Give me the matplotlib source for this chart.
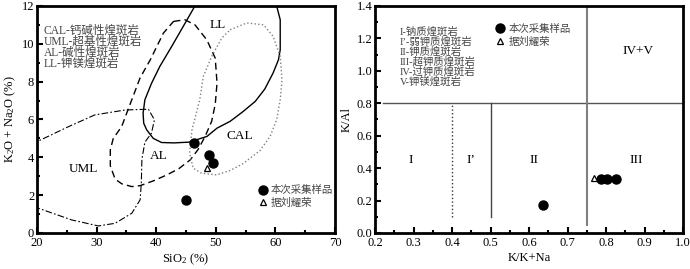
import matplotlib
matplotlib.use('Agg')
import matplotlib.pyplot as plt
from matplotlib.lines import Line2D
from matplotlib.ticker import MultipleLocator

plt.rcParams['font.family'] = ['Liberation Serif', 'Noto Sans CJK SC']
plt.rcParams['mathtext.fontset'] = 'custom'
plt.rcParams['mathtext.rm'] = 'Liberation Serif'
plt.rcParams['mathtext.default'] = 'regular'

# ---- left diagram: SiO2 vs K2O+Na2O fields ----
ll_x = [46.9, 46.5, 44.5, 42.6, 40.6, 39.2, 38.1, 37.8, 37.9, 38.4, 39.5, 40.9, 43.0, 45.5, 48.5, 50.2, 52.4, 54.5, 56.6, 58.2, 59.6, 60.5, 60.8, 60.8, 60.2, 59.9]
ll_y = [12.6, 12.0, 10.9, 9.86, 8.8, 7.9, 7.04, 6.33, 5.8, 5.45, 5.0, 4.78, 4.76, 4.8, 5.1, 5.54, 5.9, 6.4, 6.95, 7.6, 8.45, 9.15, 9.68, 11.27, 12.0, 12.6]

al_x = [42.9, 44.8, 46.5, 48.5, 49.9, 50.2, 49.9, 49.3, 48.2, 47.0, 45.7, 43.8, 41.8, 39.5, 37.3, 35.9, 34.2, 33.1, 32.3, 32.3, 32.8, 34.2, 35.9, 37.3, 39.0, 41.2, 42.9]
al_y = [11.18, 11.27, 11.0, 10.2, 9.24, 7.92, 6.8, 5.9, 5.1, 4.4, 3.86, 3.4, 3.07, 2.75, 2.5, 2.45, 2.6, 2.85, 3.55, 4.4, 5.0, 5.62, 7.04, 8.2, 9.15, 10.56, 11.18]

cal_x = [52.4, 55.2, 58.0, 59.6, 60.8, 61.1, 60.8, 60.2, 59.1, 57.4, 54.5, 52.4, 50.1, 47.6, 46.2, 45.6, 46.0, 47.3, 47.9, 49.3, 51.0, 52.4]
cal_y = [10.74, 11.1, 11.0, 10.4, 9.33, 8.1, 7.04, 5.98, 5.1, 4.35, 3.65, 3.3, 3.07, 3.16, 3.42, 4.22, 5.45, 7.04, 8.27, 9.33, 10.3, 10.74]

uml_x = [17.0, 20.3, 25.3, 29.7, 34.8, 38.7, 39.7, 39.2, 38.1, 37.6, 37.5, 37.3, 35.9, 33.1, 30.3, 25.8, 20.2, 17.0]
uml_y = [4.5, 4.87, 5.62, 6.24, 6.5, 6.54, 5.98, 5.27, 4.8, 3.9, 2.63, 1.75, 1.04, 0.51, 0.37, 0.69, 1.31, 1.6]

samp_sio2 = [46.3, 48.9, 49.6, 45.0]
samp_alk = [4.78, 4.13, 3.69, 1.72]
liu_sio2 = [48.5]
liu_alk = [3.42]

left_notes = ['CAL-钙碱性煌斑岩', 'UML-超基性煌斑岩', 'AL-碱性煌斑岩', 'LL-钾镁煌斑岩']
left_fields = ['LL', 'CAL', 'AL', 'UML']
left_field_x = [50.3, 54.1, 40.4, 27.8]
left_field_y = [11.0, 5.1, 4.05, 3.4]

# ---- right diagram: K/(K+Na) vs K/Al ----
samp_kkna = [0.637, 0.787, 0.803, 0.826]
samp_kal = [0.17, 0.335, 0.335, 0.335]
liu_kkna = [0.769]
liu_kal = [0.338]

right_notes = ['I-钠质煌斑岩', 'I’-弱钾质煌斑岩', 'II-钾质煌斑岩', 'III-超钾质煌斑岩', 'IV-过钾质煌斑岩', 'V-钾镁煌斑岩']
right_fields = ['I', 'I’', 'II', 'III', 'IV+V']
right_field_x = [0.293, 0.449, 0.613, 0.879, 0.883]
right_field_y = [0.45, 0.45, 0.45, 0.45, 1.12]

legend_labels = ['本次采集样品', '据刘耀荣']

fig = plt.figure(figsize=(6.9, 2.69), dpi=100)
ax1 = fig.add_axes([0.0536, 0.134, 0.432, 0.844])
ax2 = fig.add_axes([0.5435, 0.134, 0.4465, 0.844])

ax1.plot(ll_x, ll_y, color='black', lw=1.0)
ax1.plot(al_x, al_y, color='black', lw=1.0, dashes=(5, 3))
ax1.plot(cal_x, cal_y, color='#808080', lw=1.0, ls=':')
ax1.plot(uml_x, uml_y, color='black', lw=0.8, dashes=(6, 2, 1.5, 2))
ax1.plot(samp_sio2, samp_alk, 'o', color='black', ms=6.5, ls='none')
ax1.plot(liu_sio2, liu_alk, '^', mfc='white', mec='black', mew=0.9, ms=4.5, ls='none')

for lab, x, y in zip(left_fields, left_field_x, left_field_y):
    ax1.text(x, y, lab, fontsize=9.5, ha='center', va='center')
for i, t in enumerate(left_notes):
    ax1.text(0.023, 0.891 - i * 0.048, t, transform=ax1.transAxes, fontsize=8.3,
             color='#444444', va='center')

ax1.set_xlim(20, 70)
ax1.set_ylim(0, 12)
ax1.xaxis.set_major_locator(MultipleLocator(10))
ax1.xaxis.set_minor_locator(MultipleLocator(5))
ax1.yaxis.set_major_locator(MultipleLocator(2))
ax1.yaxis.set_minor_locator(MultipleLocator(1))
ax1.set_xlabel('SiO$_2$ (%)', fontsize=9, labelpad=2)
ax1.set_ylabel('K$_2$O + Na$_2$O (%)', fontsize=9, labelpad=3)

h1 = [Line2D([], [], marker='o', color='black', ls='none', ms=6.5),
      Line2D([], [], marker='^', mfc='white', mec='black', mew=0.9, ls='none', ms=4.5)]
ax1.legend(h1, legend_labels, loc='center left', bbox_to_anchor=(0.705, 0.16), frameon=False,
           fontsize=7.5, handletextpad=0.2, labelspacing=0.25, handlelength=1.2,
           labelcolor='#444444')

# right panel boundaries
ax2.plot([0.22, 1.0], [0.8, 0.8], color='#555555', lw=1.0)
ax2.plot([0.4, 0.4], [0.1, 0.8], color='#333333', lw=1.0, ls=':')
ax2.plot([0.5, 0.5], [0.1, 0.8], color='#444444', lw=1.0)
ax2.plot([0.75, 0.75], [0.05, 1.4], color='#808080', lw=1.5)

ax2.plot(samp_kkna, samp_kal, 'o', color='black', ms=6.5, ls='none')
ax2.plot(liu_kkna, liu_kal, '^', mfc='white', mec='black', mew=0.9, ms=4.5, ls='none')

for lab, x, y in zip(right_fields, right_field_x, right_field_y):
    ax2.text(x, y, lab, fontsize=9.5, ha='center', va='center')
for i, t in enumerate(right_notes):
    ax2.text(0.081, 0.887 - i * 0.044, t, transform=ax2.transAxes, fontsize=7.5,
             color='#444444', va='center')

ax2.set_xlim(0.2, 1.0)
ax2.set_ylim(0.0, 1.4)
ax2.xaxis.set_major_locator(MultipleLocator(0.1))
ax2.xaxis.set_minor_locator(MultipleLocator(0.05))
ax2.yaxis.set_major_locator(MultipleLocator(0.2))
ax2.yaxis.set_minor_locator(MultipleLocator(0.1))
ax2.set_xlabel('K/K+Na', fontsize=9, labelpad=2)
ax2.set_ylabel('K/Al', fontsize=9, labelpad=3)

h2 = [Line2D([], [], marker='o', color='black', ls='none', ms=6.5),
      Line2D([], [], marker='^', mfc='white', mec='black', mew=0.9, ls='none', ms=4.5)]
ax2.legend(h2, legend_labels, loc='center left', bbox_to_anchor=(0.355, 0.87), frameon=False,
           fontsize=7.5, handletextpad=0.2, labelspacing=0.25, handlelength=1.2,
           labelcolor='#444444')

for ax in (ax1, ax2):
    for s in ax.spines.values():
        s.set_linewidth(2.0)
    ax.tick_params(which='both', direction='in', labelsize=9, width=1.5)
    ax.tick_params(which='major', length=4)
    ax.tick_params(axis='x', which='major', pad=3)
    ax.tick_params(axis='y', which='major', pad=2)
    ax.tick_params(which='minor', length=2.5)

fig.savefig('out.png', dpi=100)
